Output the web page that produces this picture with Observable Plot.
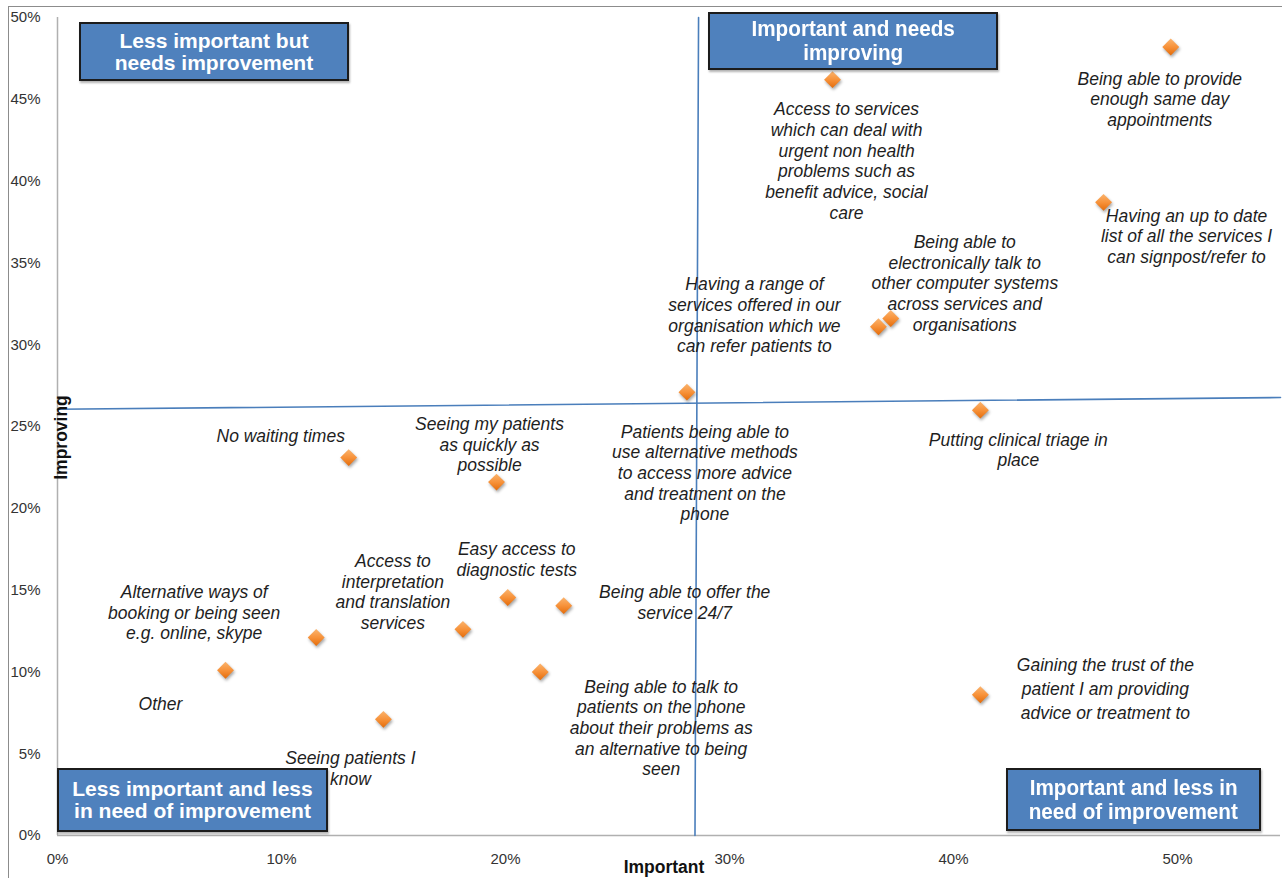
<!DOCTYPE html>
<html>
<head>
<meta charset="utf-8">
<script src="https://cdn.jsdelivr.net/npm/d3@7"></script>
<script src="https://cdn.jsdelivr.net/npm/@observablehq/plot@0.6"></script>
<style>
  html, body { margin: 0; padding: 0; background: #fff; }
  #wrap { position: relative; width: 1282px; height: 878px; overflow: hidden; font-family: "Liberation Sans", Arial, sans-serif; }
  #frame { position: absolute; left: 8px; top: 6px; width: 1400px; height: 1000px; border-top: 1.5px solid #8c8c8c; border-left: 1.5px solid #8c8c8c; }
  #chart { position: absolute; left: 0; top: 0; }
  #chart g[aria-label="dot"] path { filter: drop-shadow(1px 2px 1.5px rgba(0,0,0,0.35)); }
  .qbox { position: absolute; box-sizing: border-box; background: #4F81BD; border: 2px solid #1c1c1c;
          box-shadow: 1px 2px 2px rgba(0,0,0,0.3); color: #fff; font-weight: bold; text-align: center;
          display: flex; flex-direction: column; align-items: center; justify-content: center;
          font-family: "Liberation Sans", Arial, sans-serif; white-space: nowrap; }
  .wide { font-size: 21px; line-height: 22px; }
  .narrow { font-size: 22px; line-height: 24px; }
  .narrow span { display: inline-block; transform: scaleX(0.94); transform-origin: center; }
</style>
</head>
<body>
<div id="wrap">
  <div id="frame"></div>
  <div id="chart"></div>
</div>
<script>
// ---- data ----
const items = [
  "Being able to provide\nenough same day\nappointments",
  "Access to services\nwhich can deal with\nurgent non health\nproblems such as\nbenefit advice, social\ncare",
  "Having an up to date\nlist of all the services I\ncan signpost/refer to",
  "Being able to\nelectronically talk to\nother computer systems\nacross services and\norganisations",
  "Having a range of\nservices offered in our\norganisation which we\ncan refer patients to",
  "Patients being able to\nuse alternative methods\nto access more advice\nand treatment on the\nphone",
  "Putting clinical triage in\nplace",
  "No waiting times",
  "Seeing my patients\nas quickly as\npossible",
  "Easy access to\ndiagnostic tests",
  "Being able to offer the\nservice 24/7",
  "Access to\ninterpretation\nand translation\nservices",
  "Alternative ways of\nbooking or being seen\ne.g. online, skype",
  "Other",
  "Being able to talk to\npatients on the phone\nabout their problems as\nan alternative to being\nseen",
  "Gaining the trust of the\npatient I am providing\nadvice or treatment to",
  "Seeing patients I\nknow"
];
const important = [49.7, 34.6, 46.7, 37.2, 36.65, 28.1, 41.2, 13.0, 19.6, 20.1, 22.6, 18.1, 11.55, 7.5, 21.55, 41.2, 14.55];
const improving = [48.2, 46.2, 38.7, 31.6, 31.1, 27.1, 26.0, 23.1, 21.6, 14.55, 14.05, 12.6, 12.1, 10.1, 10.0, 8.6, 7.1];

const xTicks = [0, 10, 20, 30, 40, 50];
const yTicks = [0, 5, 10, 15, 20, 25, 30, 35, 40, 45, 50];

// quadrant divider lines
const hDivider = [{x: 0, y: 26.05}, {x: 54.6, y: 26.77}];
const vDivider = [{x: 28.62, y: 50}, {x: 28.46, y: 0}];

const quadrantTitles = [
  "Less important but\nneeds improvement",
  "Important and needs\nimproving",
  "Less important and less\nin need of improvement",
  "Important and less in\nneed of improvement"
];

// ---- layout (label offsets in px from each point; line height) ----
const labelOffsets = [
  [-11, 23], [14, 21], [83, 5], [74, -85], [-124, -51], [18, 31], [38, 21],
  [-68, -30], [-7, -66], [9, -57], [121, -22], [-70, -77], [-122, -54],
  [-65, 25], [121, 6], [125, -41], [-33, 30]
];
const labelLineHeights = [1.18,1.18,1.17,1.18,1.18,1.18,1.18,1.18,1.15,1.18,1.18,1.18,1.18,1.18,1.18,1.38,1.18];

const table = items.map((label, i) => ({label, x: important[i], y: improving[i]}));
const fmt = d => d + "%";

const labelMarks = table.map((d, i) => Plot.text([d], {
  x: "x", y: "y", text: "label",
  dx: labelOffsets[i][0], dy: labelOffsets[i][1],
  lineAnchor: "top", textAnchor: "middle",
  lineHeight: labelLineHeights[i],
  fontStyle: "italic", fontSize: 17.5, fill: "#1e1e1e",
  fontFamily: "Liberation Sans, Arial, sans-serif"
}));

const plot = Plot.plot({
  width: 1282, height: 878,
  marginLeft: 57, marginRight: 2, marginTop: 17, marginBottom: 43,
  x: {domain: [0, 54.6]},
  y: {domain: [0, 50]},
  style: {fontFamily: "Liberation Sans, Arial, sans-serif", background: "transparent", overflow: "visible"},
  marks: [
    Plot.axisX({ticks: xTicks, tickSize: 0, tickPadding: 18, tickFormat: fmt, label: null, fontSize: 15, fill: "#333"}),
    Plot.axisY({ticks: yTicks, tickSize: 0, tickPadding: 17, tickFormat: fmt, label: null, fontSize: 15, fill: "#333"}),
    Plot.ruleY([0], {stroke: "#b0b0b0", strokeWidth: 1.5}),
    Plot.ruleX([0], {stroke: "#b0b0b0", strokeWidth: 1.5}),
    Plot.line(hDivider, {x: "x", y: "y", stroke: "#4A7EBB", strokeWidth: 1.6}),
    Plot.line(vDivider, {x: "x", y: "y", stroke: "#4A7EBB", strokeWidth: 1.6}),
    ...labelMarks,
    Plot.dot(table, {x: "x", y: "y", symbol: "diamond2", r: 7.6, fill: "url(#orangeGrad)", stroke: "none"}),
    Plot.text(["Important"], {frameAnchor: "bottom", dx: -5, dy: 37, fontWeight: "bold", fontSize: 17.5, fill: "#111"}),
    Plot.text(["Improving"], {frameAnchor: "left", textAnchor: "middle", dx: 4, dy: 11, rotate: -90, fontWeight: "bold", fontSize: 17.5, fill: "#111"})
  ]
});

// gradient for the diamonds
const svgNS = "http://www.w3.org/2000/svg";
const defs = document.createElementNS(svgNS, "defs");
defs.innerHTML = '<linearGradient id="orangeGrad" x1="0" y1="0" x2="0" y2="1">' +
  '<stop offset="0" stop-color="#FBB46E"/><stop offset="0.5" stop-color="#F7923A"/><stop offset="1" stop-color="#E46C0A"/></linearGradient>';
plot.insertBefore(defs, plot.firstChild);
document.getElementById("chart").appendChild(plot);

// quadrant boxes (annotation overlays)
const boxLayout = [
  {left: 79, top: 22, w: 270, h: 59, cls: "wide"},
  {left: 708, top: 12, w: 290, h: 58, cls: "narrow"},
  {left: 57, top: 768, w: 271, h: 64, cls: "wide"},
  {left: 1006, top: 768, w: 255, h: 63, cls: "narrow"}
];
const wrap = document.getElementById("wrap");
quadrantTitles.forEach((t, i) => {
  const b = boxLayout[i];
  const div = document.createElement("div");
  div.className = "qbox " + b.cls;
  Object.assign(div.style, {left: b.left + "px", top: b.top + "px", width: b.w + "px", height: b.h + "px"});
  t.split("\n").forEach(s => {
    const line = document.createElement("span");
    line.textContent = s;
    div.appendChild(line);
  });
  wrap.appendChild(div);
});
</script>
</body>
</html>
